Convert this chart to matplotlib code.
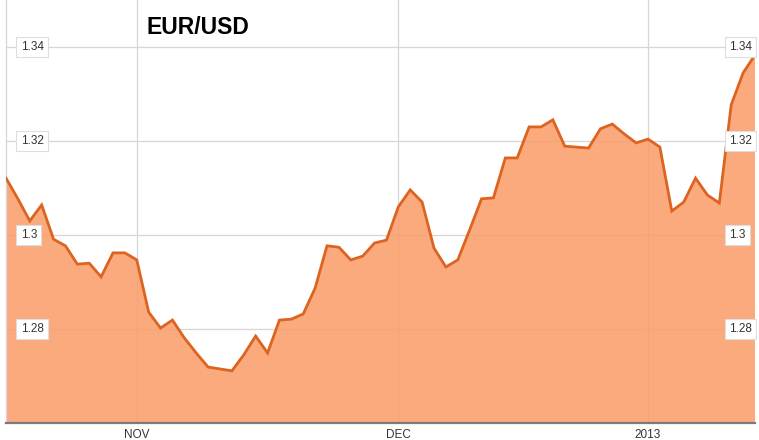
import numpy as np
import pandas as pd
import matplotlib
matplotlib.use("Agg")
import matplotlib.pyplot as plt
import matplotlib.transforms as mtransforms

plt.rcParams['font.family'] = ['Liberation Sans', 'DejaVu Sans']

# business days from 2012-10-17 to 2013-01-14
dates = pd.bdate_range("2012-10-17", "2013-01-14")
rates = [1.3121, 1.3077, 1.3030, 1.3064, 1.2991, 1.2977, 1.2938, 1.2940,
         1.2911, 1.2962, 1.2962, 1.2947, 1.2836, 1.2802, 1.2819, 1.2781,
         1.2749, 1.2719, 1.2715, 1.2711, 1.2745, 1.2785, 1.2749, 1.2819,
         1.2821, 1.2832, 1.2887, 1.2977, 1.2974, 1.2947, 1.2955, 1.2983,
         1.2989, 1.3060, 1.3096, 1.3070, 1.2972, 1.2932, 1.2947, 1.3011,
         1.3077, 1.3079, 1.3164, 1.3164, 1.3230, 1.3230, 1.3245, 1.3189,
         1.3187, 1.3185, 1.3226, 1.3236, 1.3215, 1.3196, 1.3204, 1.3187,
         1.3051, 1.3070, 1.3121, 1.3085, 1.3068, 1.3277, 1.3345, 1.3383]
month_ticks = ["2012-11-01", "2012-12-03", "2013-01-01"]
month_labels = ["NOV", "DEC", "2013"]
y_ticks = [1.28, 1.30, 1.32, 1.34]
y_labels = ["1.28", "1.3", "1.32", "1.34"]

idx = np.arange(len(rates))
tick_pos = [dates.get_loc(pd.Timestamp(d)) for d in month_ticks]

fig = plt.figure(figsize=(7.59, 4.40), dpi=100)
ax = fig.add_axes([6 / 759, 17 / 440, 749 / 759, 423 / 440])

ax.fill_between(idx, rates, 1.20, color=(251/255, 155/255, 102/255), alpha=0.85,
                linewidth=0, zorder=2)
ax.plot(idx, rates, color='#dc6420', linewidth=2.0, solid_joinstyle='miter', zorder=3)

ax.set_xlim(0, len(rates) - 1)
ax.set_ylim(1.26, 1.35)

ax.set_xticks(tick_pos)
ax.set_xticklabels(month_labels, fontsize=8.5, color='#333333')
ax.set_yticks(y_ticks)
ax.set_yticklabels([])
ax.tick_params(axis='both', length=0, pad=4)
ax.tick_params(axis='y', left=False, labelleft=False)
ax.grid(True, color='#d6d6d6', linewidth=0.9, zorder=1)
ax.set_axisbelow(True)

for side in ['top', 'right']:
    ax.spines[side].set_visible(False)
ax.spines['left'].set_color('#d6d6d6')
ax.spines['left'].set_linewidth(0.9)
ax.spines['bottom'].set_color('#7a7a7a')
ax.spines['bottom'].set_linewidth(1.6)

# boxed value labels on both sides
trans = mtransforms.blended_transform_factory(ax.transAxes, ax.transData)
box = dict(boxstyle='square,pad=0.35', facecolor='white', edgecolor='#dddddd', linewidth=0.8)
for v, lab in zip(y_ticks, y_labels):
    ax.text(0.0195, v, lab, transform=trans, ha='left', va='center', fontsize=8.5,
            color='#333333', bbox=box, zorder=5)
    ax.text(0.9655, v, lab, transform=trans, ha='left', va='center', fontsize=8.5,
            color='#333333', bbox=box, zorder=5)

ax.text(0.188, 1 - 34 / 423, "EUR/USD", transform=ax.transAxes, fontsize=16.5,
        fontweight='bold', color='black', ha='left', va='baseline', zorder=5)

fig.savefig("out.png", dpi=100, facecolor='white')
